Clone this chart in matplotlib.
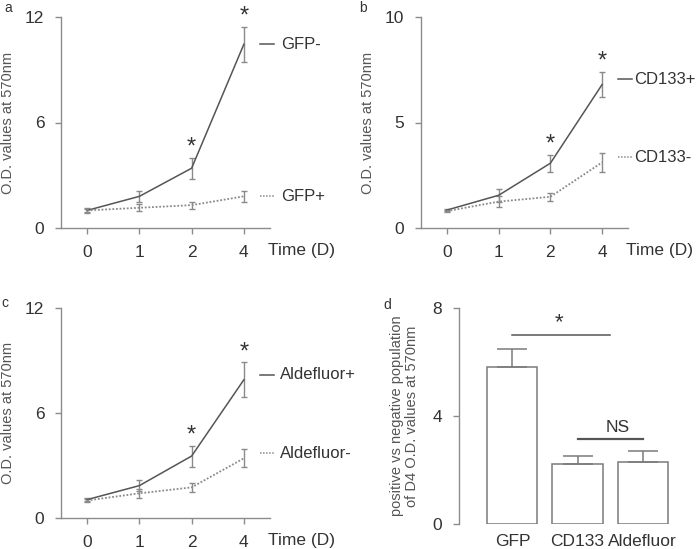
import matplotlib.pyplot as plt
import matplotlib.transforms as mtransforms

plt.rcParams['font.family'] = ['Liberation Sans', 'DejaVu Sans']

# ---------------- data ----------------
days = ["0", "1", "2", "4"]

gfp_neg = [1.0, 1.8, 3.4, 10.45]
gfp_neg_err = [0.1, 0.3, 0.6, 1.0]
gfp_pos = [1.0, 1.15, 1.3, 1.8]
gfp_pos_err = [0.12, 0.2, 0.2, 0.3]

cd133_pos = [0.85, 1.55, 3.07, 6.8]
cd133_pos_err = [0.06, 0.3, 0.4, 0.6]
cd133_neg = [0.8, 1.25, 1.48, 3.11]
cd133_neg_err = [0.05, 0.25, 0.2, 0.45]

ald_pos = [1.05, 1.85, 3.54, 7.9]
ald_pos_err = [0.1, 0.33, 0.6, 1.0]
ald_neg = [1.0, 1.41, 1.75, 3.41]
ald_neg_err = [0.08, 0.25, 0.25, 0.52]

bar_labels = ["GFP", "CD133", "Aldefluor"]
bar_values = [5.8, 2.22, 2.31]
bar_err = [0.7, 0.3, 0.4]

# ---------------- style ----------------
W, H = 700, 549
solid_c = "#555555"
dot_c = "#8a8a8a"
axis_c = "#8c8c8c"
text_c = "#333333"

fig = plt.figure(figsize=(W / 100, H / 100), dpi=100)


def px_axes(left, top, right, bottom):
    return fig.add_axes([left / W, 1 - bottom / H, (right - left) / W, (bottom - top) / H])


def style_axes(ax):
    for s in ["top", "right"]:
        ax.spines[s].set_visible(False)
    for s in ["left", "bottom"]:
        ax.spines[s].set_color(axis_c)
        ax.spines[s].set_linewidth(1.0)
    ax.tick_params(colors=axis_c, labelcolor=text_c, labelsize=12.5, length=4, width=1,
                   pad=8)


def line_panel(ax, top, yticks, s1, e1, s2, e2, lab1, lab2, off, lab_x):
    x = list(range(len(days)))
    ax.errorbar(x, s1, yerr=e1, color=solid_c, lw=1.1, ecolor=dot_c, elinewidth=1,
                capsize=2.5, capthick=1)
    ax.errorbar(x, s2, yerr=e2, color=dot_c, lw=1.3, ls=(0, (1, 1)), ecolor=dot_c,
                elinewidth=1, capsize=2.5, capthick=1)
    ax.set_xlim(-0.5, 3.5)
    ax.set_ylim(0, top)
    ax.set_yticks(yticks)
    ax.set_xticks(x)
    ax.set_xticklabels(days)
    style_axes(ax)
    ax.tick_params(axis="x", length=4, pad=8)
    ax.spines["left"].set_bounds(0, top)
    ax.set_ylabel("O.D. values at 570nm", fontsize=10.5, color="#555555", labelpad=7)
    ax.text(0.99, -0.105, "Time (D)", transform=ax.transAxes, fontsize=12.5,
            color=text_c, ha="left", va="center")
    # asterisks above days 2 and 4
    for i in [2, 3]:
        ax.annotate("*", (i, s1[i] + e1[i]), xytext=(0, 10), textcoords="offset pixels",
                    ha="center", va="center", fontsize=17, color=text_c)
    # inline legend
    tr = mtransforms.blended_transform_factory(ax.transAxes, ax.transData)
    for val, lab, c, ls in [(s1[-1] + off, lab1, solid_c, "-"),
                            (s2[-1] + off, lab2, dot_c, (0, (1, 1)))]:
        ax.plot([0.952, 1.02], [val, val], transform=tr, color=c, ls=ls, lw=1.1,
                clip_on=False)
        ax.text(lab_x, val, lab, transform=tr, fontsize=12, color=text_c,
                ha="left", va="center")


ax_a = px_axes(61, 17, 270, 228)
line_panel(ax_a, 12, [0, 6, 12], gfp_neg, gfp_neg_err, gfp_pos, gfp_pos_err,
           "GFP-", "GFP+", 0.0, 1.055)
ax_b = px_axes(421, 17, 628, 228)
line_panel(ax_b, 10, [0, 5, 10], cd133_pos, cd133_pos_err, cd133_neg, cd133_neg_err,
           "CD133+", "CD133-", 0.25, 1.03)
ax_c = px_axes(61, 308, 270, 518)
line_panel(ax_c, 12, [0, 6, 12], ald_pos, ald_pos_err, ald_neg, ald_neg_err,
           "Aldefluor+", "Aldefluor-", 0.3, 1.05)

# ---------------- panel d ----------------
ax_d = px_axes(459, 308, 672, 524)
xb = list(range(len(bar_labels)))
ax_d.bar(xb, bar_values, width=0.77, color="white", edgecolor="#7a7a7a", linewidth=1.1,
         yerr=[[0] * len(bar_err), bar_err], ecolor="#7a7a7a",
         error_kw=dict(elinewidth=1.1, capsize=11, capthick=1.1))
ax_d.set_xlim(-0.82, 2.45)
ax_d.set_ylim(0, 8)
ax_d.set_yticks([0, 4, 8])
ax_d.set_xticks(xb)
ax_d.set_xticklabels(bar_labels)
style_axes(ax_d)
ax_d.spines["bottom"].set_visible(False)
ax_d.tick_params(axis="x", length=0, pad=7)
ax_d.set_ylabel("positive vs negative population\nof D4 O.D. values at 570nm",
                fontsize=10.5, color="#555555", labelpad=10, linespacing=1.05)
ax_d.plot([0, 1.5], [7.0, 7.0], color="#555555", lw=1.1)
ax_d.text(0.72, 7.05, "*", ha="center", va="bottom", fontsize=16, color=text_c)
ax_d.plot([1, 2], [3.14, 3.14], color="#555555", lw=1.6)
ax_d.text(1.62, 3.3, "NS", ha="center", va="bottom", fontsize=12.5, color=text_c)

# panel letters
fig.text(8 / W, 1 - 8 / H, "a", fontsize=10, color=text_c, ha="center", va="center")
fig.text(363 / W, 1 - 8 / H, "b", fontsize=10, color=text_c, ha="center", va="center")
fig.text(5 / W, 1 - 303 / H, "c", fontsize=10, color=text_c, ha="center", va="center")
fig.text(387 / W, 1 - 305 / H, "d", fontsize=10, color=text_c, ha="center", va="center")

fig.savefig("out.png", dpi=100)
